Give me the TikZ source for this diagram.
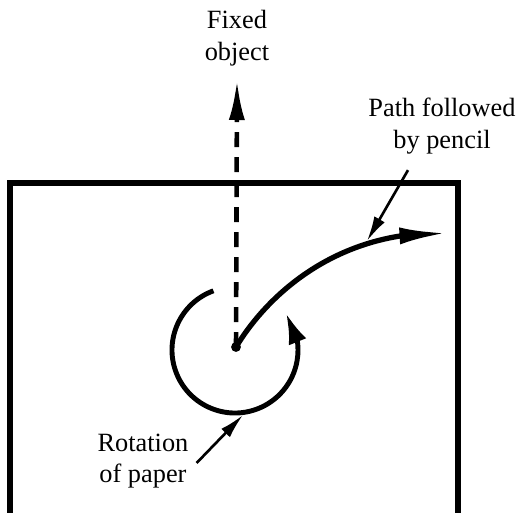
\documentclass[tikz,border=0pt]{standalone}
\usepackage{fontspec}
\setmainfont{Liberation Serif}
\usetikzlibrary{arrows.meta, bending}

\begin{document}
\begin{tikzpicture}[x=0.02cm, y=0.02cm, font=\fontsize{15}{18}\selectfont,
    paper/.style={line width=3pt},
    bigtip/.style={-{Latex[length=0.8cm, width=0.32cm]}},
    pointer/.style={line width=1.5pt, -{Latex[length=0.5cm, width=0.24cm]}}]
  \useasboundingbox (0,0) rectangle (524,512);

  % sheet of paper (open at the bottom)
  \draw[paper] (10,-5) -- (10,329) -- (458,329) -- (458,-5);

  % points
  \coordinate (pivot) at (236,165);
  \coordinate (fixedtip) at (237,432);
  \coordinate (pencilend) at (447,279);
  \coordinate (pencilhit) at (367,271);
  \coordinate (paperhit) at (243,97);

  % labels
  \node[align=center] (fixed) at (237,474) {Fixed\\object};
  \node[align=center] (pencil) at (442,386) {Path followed\\by pencil};
  \node[align=center] (rotation) at (143,51) {Rotation\\of paper};

  % direction of the fixed object
  \draw[line width=2.6pt, dash pattern=on 0.3cm off 0.2cm, bigtip] (pivot) -- (fixedtip);
  \fill (pivot) circle (2.8pt);

  % rotation of the paper
  \draw[line width=2.8pt, -{Latex[length=0.62cm, width=0.38cm]}]
    (235,162) ++(110:63) arc[start angle=110, end angle=396, radius=63];

  % path of the pencil
  \draw[line width=3pt, -{Latex[length=0.95cm, width=0.34cm]}]
    (pivot) .. controls (268,218) and (338,282) .. (pencilend);

  % pointers
  \draw[pointer] (pencil.south) ++(-34,-10) -- (pencilhit);
  \draw[pointer] (rotation.east) ++(2,-2) -- (paperhit);
\end{tikzpicture}
\end{document}
